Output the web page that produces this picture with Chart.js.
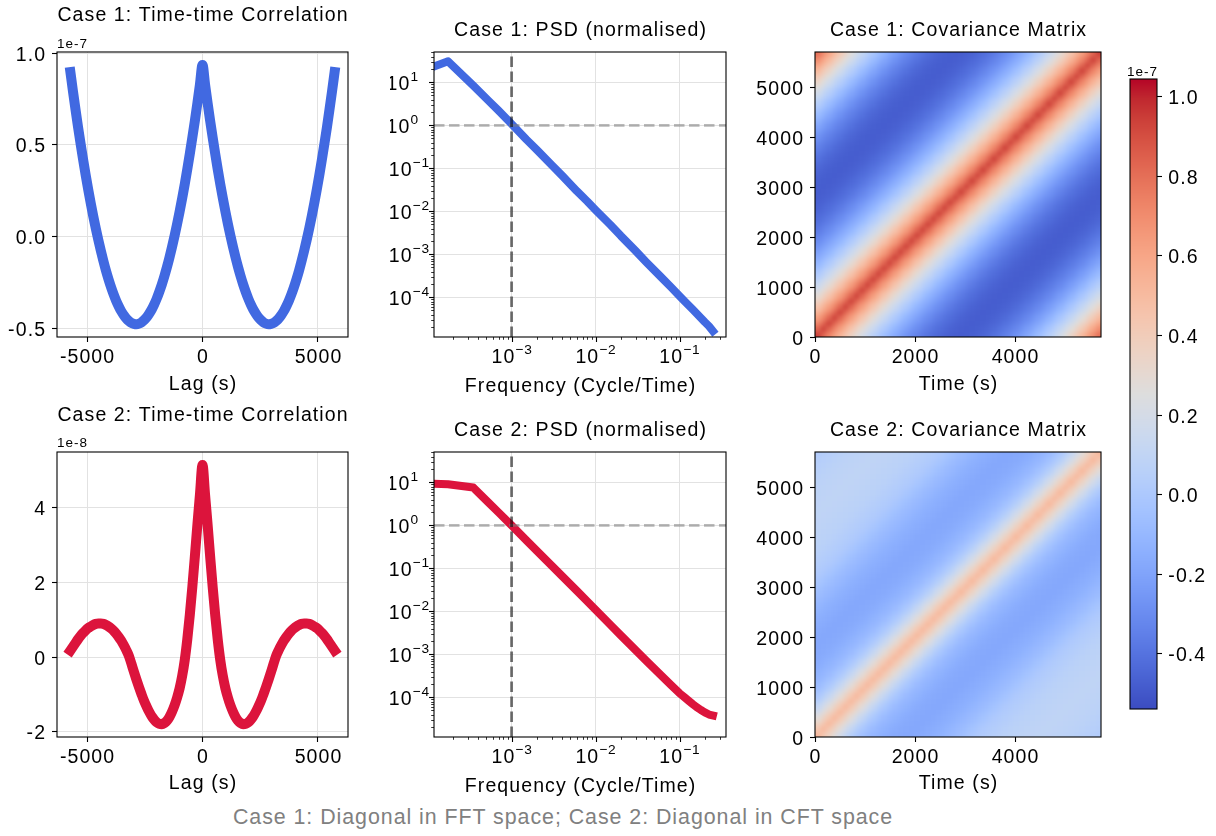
<!DOCTYPE html>
<html>
<head>
<meta charset="utf-8">
<script src="https://cdn.jsdelivr.net/npm/chart.js@4.4.1/dist/chart.umd.min.js"></script>
<style>
  html, body { margin: 0; padding: 0; background: #fff; }
  #fig { position: relative; width: 1216px; height: 836px; overflow: hidden; background: #fff; }
  #fig canvas { position: absolute; }
  #caption {
    position: absolute; left: 0; width: 1126px; top: 805px; height: 26px; line-height: 26px;
    text-align: center; color: #808080; letter-spacing: 0.95px;
    font: 21.4px "Liberation Sans", Arial, Helvetica, sans-serif;
  }
</style>
</head>
<body>
<div id="fig">
  <div id="caption">Case 1: Diagonal in FFT space; Case 2: Diagonal in CFT space</div>
</div>
<script>
// ---------------- data ----------------
// time lag grid (s), one-sided; the plotted correlation is symmetric in lag
const lags = [0, 110, 220, 330, 440, 550, 660, 770, 880, 990, 1100, 1210, 1320, 1430, 1540, 1650,
  1760, 1870, 1980, 2090, 2200, 2310, 2420, 2530, 2640, 2750, 2860, 2970, 3080, 3190, 3300, 3410,
  3520, 3630, 3740, 3850, 3960, 4070, 4180, 4290, 4400, 4510, 4620, 4730, 4840, 4950, 5060, 5170,
  5280, 5390, 5500, 5610, 5720];

// case 1 time-time correlation, units of 1e-7
const corrCase1 = [0.936, 0.830, 0.729, 0.632, 0.540, 0.451, 0.366, 0.285, 0.209, 0.137, 0.068, 0.004,
  -0.057, -0.114, -0.167, -0.216, -0.261, -0.301, -0.338, -0.370, -0.398, -0.421, -0.441, -0.456,
  -0.468, -0.475, -0.478, -0.476, -0.471, -0.461, -0.447, -0.429, -0.407, -0.380, -0.350, -0.315,
  -0.276, -0.233, -0.186, -0.134, -0.078, -0.019, 0.044, 0.111, 0.182, 0.257, 0.336, 0.420, 0.507,
  0.598, 0.694, 0.793, 0.897];

// case 2 time-time correlation, units of 1e-8
const corrCase2 = [5.14, 4.35, 3.55, 2.70, 1.88, 1.13, 0.47, -0.08, -0.50, -0.83, -1.08, -1.29, -1.46,
  -1.60, -1.70, -1.76, -1.79, -1.78, -1.74, -1.67, -1.58, -1.46, -1.32, -1.17, -0.99, -0.80, -0.60,
  -0.39, -0.17, 0.04, 0.19, 0.32, 0.44, 0.54, 0.63, 0.71, 0.77, 0.82, 0.86, 0.89, 0.90, 0.90, 0.89,
  0.86, 0.82, 0.78, 0.72, 0.65, 0.57, 0.48, 0.38, 0.28, 0.18];

// normalised power spectral densities
const psdFreq = [1.19e-4, 1.75e-4, 3.5e-4, 5.24e-4, 7.0e-4, 1.0e-3, 1.5e-3, 2.0e-3, 3.0e-3, 4.0e-3,
  6.0e-3, 8.0e-3, 1.0e-2, 1.5e-2, 2.0e-2, 3.0e-2, 4.0e-2, 6.0e-2, 8.0e-2, 0.1, 0.115, 0.13, 0.145,
  0.16, 0.18, 0.2, 0.225, 0.25];
const psdCase1 = [23.5, 31.0, 8.4, 3.85, 2.2, 1.08, 0.47, 0.27, 0.12, 0.068, 0.0295, 0.0170, 0.0108,
  0.0049, 0.0027, 0.00121, 0.00067, 0.000300, 0.000170, 0.000108, 0.0000817, 0.0000640, 0.0000514,
  0.0000422, 0.0000333, 0.0000268, 0.0000213, 0.0000165];
const psdCase2 = [9.3, 9.1, 7.6, 3.5, 2.0, 1.0, 0.45, 0.255, 0.116, 0.066, 0.0300, 0.0170, 0.0109,
  0.0049, 0.00278, 0.00126, 0.000720, 0.000330, 0.000190, 0.000125, 0.000100, 0.0000820, 0.0000690,
  0.0000595, 0.0000510, 0.0000450, 0.0000400, 0.0000380];
const psdRefFreq = 1e-3;   // vertical reference line
const psdRefLevel = 1;     // horizontal reference line

// tick labels
const lagTicks = [-5000, 0, 5000];
const corr1Ticks = [-0.5, 0.0, 0.5, 1.0];
const corr2Ticks = [-2, 0, 2, 4];
const freqExpTicks = [-3, -2, -1];
const psdExpTicks = [-4, -3, -2, -1, 0, 1];
const timeTicksX = [0, 2000, 4000];
const timeTicksY = [0, 1000, 2000, 3000, 4000, 5000];
const cbarTicks = [-0.4, -0.2, 0.0, 0.2, 0.4, 0.6, 0.8, 1.0];

// shared colour range of both covariance images, units of 1e-7
const covMin = -0.539;
const covMax = 1.045;

// ---------------- helpers ----------------
const FONT = '"Liberation Sans", Arial, Helvetica, sans-serif';
const LS = 1.1;
const GRID = '#e2e2e2';
const FIG = document.getElementById('fig');

// matplotlib "coolwarm" control colours
const COOLWARM = [[59,76,192],[68,90,204],[77,104,215],[87,117,225],[98,130,234],[108,142,241],
  [119,154,247],[130,165,251],[141,176,254],[152,185,255],[163,194,255],[174,201,253],[184,208,249],
  [194,213,244],[204,217,238],[213,219,230],[221,221,221],[229,216,209],[236,211,197],[241,204,185],
  [245,196,173],[247,187,160],[247,177,148],[247,166,135],[244,154,123],[241,141,111],[236,127,99],
  [229,112,88],[222,96,77],[213,80,66],[203,62,56],[192,40,47],[180,4,38]];
function coolwarm(t) {
  t = Math.min(1, Math.max(0, t));
  const n = COOLWARM.length - 1, f = t * n, i = Math.min(n - 1, Math.floor(f)), u = f - i;
  const a = COOLWARM[i], b = COOLWARM[i + 1];
  return 'rgb(' + [0, 1, 2].map(k => Math.round(a[k] + (b[k] - a[k]) * u)).join(',') + ')';
}

function setFont(ctx, size, ls) {
  ctx.font = size + 'px ' + FONT;
  if ('letterSpacing' in ctx) ctx.letterSpacing = ls + 'px';
}
function measure(ctx, s, size, ls) {
  ctx.save(); setFont(ctx, size, ls);
  const w = ctx.measureText(s).width - (('letterSpacing' in ctx) ? ls : 0);
  ctx.restore();
  return w;
}
function drawText(ctx, s, x, y, o) {
  o = o || {};
  const size = o.size || 19.5, ls = (o.ls === undefined) ? LS : o.ls, align = o.align || 'left';
  const w = measure(ctx, s, size, ls);
  const x0 = align === 'center' ? x - w / 2 : (align === 'right' ? x - w : x);
  ctx.save();
  setFont(ctx, size, ls);
  ctx.fillStyle = o.color || '#000';
  ctx.textAlign = 'left';
  ctx.textBaseline = 'alphabetic';
  ctx.fillText(s, x0, y);
  ctx.restore();
}
// "10" with a raised exponent
function sciText(ctx, exp, x, yb, align) {
  const sup = exp < 0 ? '\u2212' + Math.abs(exp) : String(exp);
  const wb = measure(ctx, '10', 19.5, LS), ws = measure(ctx, sup, 13.7, 0.8);
  const total = wb + LS + ws;
  const x0 = align === 'center' ? x - total / 2 : x - total;
  drawText(ctx, '10', x0, yb);
  drawText(ctx, sup, x0 + wb + LS, yb - 9, { size: 13.7, ls: 0.8 });
}

const fmt1 = v => (v < 0 ? '-' : '') + Math.abs(v).toFixed(1);
const fmt0 = v => (v < 0 ? '-' : '') + Math.abs(v).toFixed(0);
const mirror = a => a.slice(1).reverse().concat(a);
const lagAxis = lags.slice(1).reverse().map(v => -v).concat(lags);
const pts = (xs, ys) => xs.map((x, i) => ({ x: x, y: ys[i] }));

function mount(cv) {
  const c = document.createElement('canvas');
  c.width = cv.w; c.height = cv.h;
  c.style.left = cv.x + 'px'; c.style.top = cv.y + 'px';
  c.style.width = cv.w + 'px'; c.style.height = cv.h + 'px';
  FIG.appendChild(c);
  return c;
}

function decor(spec) {
  return {
    id: 'decor',
    beforeDatasetsDraw(chart) { if (spec.underlay) spec.underlay(chart); },
    afterDraw(chart) {
      const ctx = chart.ctx, ca = chart.chartArea;
      if (spec.labels) spec.labels(chart);
      ctx.save();
      ctx.strokeStyle = '#000'; ctx.lineWidth = 1.1;
      ctx.strokeRect(ca.left, ca.top, ca.right - ca.left, ca.bottom - ca.top);
      ctx.restore();
      (spec.texts || []).forEach(t => drawText(ctx, t.s, t.x - spec.cv.x, t.y - spec.cv.y, t));
    }
  };
}

function frameOptions(cv, area, scales) {
  return {
    responsive: false, animation: false, devicePixelRatio: 1, events: [],
    layout: { autoPadding: false,
      padding: { left: 0, top: area.t - cv.y, right: cv.x + cv.w - area.r, bottom: 0 } },
    plugins: { legend: { display: false }, tooltip: { enabled: false } },
    scales: scales
  };
}
function fixTicks(vals) { return s => { s.ticks = vals.map(v => ({ value: v })); }; }

function linearLabels(xs, ys, fx, fy) {
  return chart => {
    const ctx = chart.ctx, ca = chart.chartArea, X = chart.scales.x, Y = chart.scales.y;
    xs.forEach(v => drawText(ctx, fx(v), X.getPixelForValue(v), ca.bottom + 26, { align: 'center' }));
    ys.forEach(v => drawText(ctx, fy(v), ca.left - 12, Y.getPixelForValue(v) + 7.5, { align: 'right' }));
  };
}

// ---------------- correlation panels ----------------
function corrPanel(cv, area, values, color, yRange, yTicks, yFmt, texts) {
  const scales = {
    x: { type: 'linear', min: -6300, max: 6300, bounds: 'data',
      afterBuildTicks: fixTicks(lagTicks), afterFit: s => { s.height = cv.y + cv.h - area.b; },
      ticks: { display: false },
      grid: { color: GRID, lineWidth: 1, drawTicks: true, tickLength: 5, tickColor: '#000', tickWidth: 1.1 },
      border: { display: false } },
    y: { type: 'linear', min: yRange[0], max: yRange[1], bounds: 'data',
      afterBuildTicks: fixTicks(yTicks), afterFit: s => { s.width = area.l - cv.x; },
      ticks: { display: false },
      grid: { color: GRID, lineWidth: 1, drawTicks: true, tickLength: 5, tickColor: '#000', tickWidth: 1.1 },
      border: { display: false } }
  };
  const spec = { cv: cv, texts: texts, labels: linearLabels(lagTicks, yTicks, fmt0, yFmt) };
  new Chart(mount(cv), {
    type: 'scatter',
    data: { datasets: [{ data: pts(lagAxis, mirror(values)), showLine: true, borderColor: color,
      borderWidth: 10, pointRadius: 0, pointHoverRadius: 0, cubicInterpolationMode: 'monotone',
      borderCapStyle: 'square', borderJoinStyle: 'round', clip: 0 }] },
    options: frameOptions(cv, area, scales),
    plugins: [decor(spec)]
  });
}

// ---------------- PSD panels ----------------
function logLabelsAndTicks(chart) {
  const ctx = chart.ctx, ca = chart.chartArea, X = chart.scales.x, Y = chart.scales.y;
  ctx.save();
  ctx.strokeStyle = '#000';
  [[X, 'x'], [Y, 'y']].forEach(([s, ax]) => {
    const e0 = Math.floor(Math.log10(s.min)), e1 = Math.ceil(Math.log10(s.max));
    for (let e = e0; e <= e1; e++) {
      for (let k = 1; k <= 9; k++) {
        const v = k * Math.pow(10, e);
        if (v < s.min || v > s.max) continue;
        const p = Math.round(s.getPixelForValue(v)) + 0.5;
        const len = k === 1 ? 5 : 2.8;
        ctx.lineWidth = k === 1 ? 1.1 : 0.8;
        ctx.beginPath();
        if (ax === 'x') { ctx.moveTo(p, ca.bottom); ctx.lineTo(p, ca.bottom + len); }
        else { ctx.moveTo(ca.left, p); ctx.lineTo(ca.left - len, p); }
        ctx.stroke();
      }
    }
  });
  ctx.restore();
  freqExpTicks.forEach(e => sciText(ctx, e, X.getPixelForValue(Math.pow(10, e)), ca.bottom + 26, 'center'));
  psdExpTicks.forEach(e => sciText(ctx, e, ca.left - (e < 0 ? 5 : 16), Y.getPixelForValue(Math.pow(10, e)) + 8, 'right'));
}

function psdPanel(cv, area, values, color, texts) {
  const xMin = 1.19e-4, xMax = 0.358, yMin = 1.2e-5, yMax = 51;
  const grid = { color: GRID, lineWidth: 1, drawTicks: false };
  const scales = {
    x: { type: 'logarithmic', min: xMin, max: xMax, bounds: 'data',
      afterBuildTicks: fixTicks(freqExpTicks.map(e => Math.pow(10, e))),
      afterFit: s => { s.height = cv.y + cv.h - area.b; },
      ticks: { display: false }, grid: grid, border: { display: false } },
    y: { type: 'logarithmic', min: yMin, max: yMax, bounds: 'data',
      afterBuildTicks: fixTicks(psdExpTicks.map(e => Math.pow(10, e))),
      afterFit: s => { s.width = area.l - cv.x; },
      ticks: { display: false }, grid: grid, border: { display: false } }
  };
  const dash = { showLine: true, borderWidth: 2.8, borderDash: [10.5, 4.5], pointRadius: 0,
    pointHoverRadius: 0, tension: 0, clip: 0, order: 0 };
  const spec = { cv: cv, texts: texts, labels: logLabelsAndTicks };
  new Chart(mount(cv), {
    type: 'scatter',
    data: { datasets: [
      Object.assign({ data: [{ x: psdRefFreq, y: yMin }, { x: psdRefFreq, y: yMax }],
        borderColor: 'rgba(0,0,0,0.55)' }, dash),
      Object.assign({ data: [{ x: xMin, y: psdRefLevel }, { x: xMax, y: psdRefLevel }],
        borderColor: 'rgba(128,128,128,0.55)' }, dash),
      { data: pts(psdFreq, values), showLine: true, borderColor: color, borderWidth: 8,
        pointRadius: 0, pointHoverRadius: 0, tension: 0, borderCapStyle: 'square',
        borderJoinStyle: 'round', clip: 0, order: 1 }
    ] },
    options: frameOptions(cv, area, scales),
    plugins: [decor(spec)]
  });
}

// ---------------- covariance panels ----------------
function covPanel(cv, area, corr, unit, texts) {
  const tMax = lags[lags.length - 1];
  const tickGrid = { drawOnChartArea: false, drawTicks: true, tickLength: 5, tickColor: '#000', tickWidth: 1.1 };
  const scales = {
    x: { type: 'linear', min: 0, max: tMax, bounds: 'data', afterBuildTicks: fixTicks(timeTicksX),
      afterFit: s => { s.height = cv.y + cv.h - area.b; }, ticks: { display: false },
      grid: tickGrid, border: { display: false } },
    y: { type: 'linear', min: 0, max: tMax, bounds: 'data', afterBuildTicks: fixTicks(timeTicksY),
      afterFit: s => { s.width = area.l - cv.x; }, ticks: { display: false },
      grid: tickGrid, border: { display: false } }
  };
  // stationary covariance: cell (i, j) holds the correlation at lag |t_i - t_j|;
  // cells are painted on a layer that is softened like an interpolated image
  const underlay = chart => {
    const ctx = chart.ctx, ca = chart.chartArea, X = chart.scales.x, Y = chart.scales.y, n = lags.length - 1;
    const px = lags.map(t => Math.round(X.getPixelForValue(t)));
    const py = lags.map(t => Math.round(Y.getPixelForValue(t)));
    const layer = document.createElement('canvas');
    layer.width = chart.width; layer.height = chart.height;
    const lc = layer.getContext('2d');
    const pad = 12;
    for (let i = 0; i < n; i++) {
      for (let j = 0; j < n; j++) {
        const v = corr[Math.abs(i - j)] * unit;
        lc.fillStyle = coolwarm((v - covMin) / (covMax - covMin));
        const x0 = px[i] - (i === 0 ? pad : 0), x1 = px[i + 1] + (i === n - 1 ? pad : 0);
        const y0 = py[j + 1] - (j === n - 1 ? pad : 0), y1 = py[j] + (j === 0 ? pad : 0);
        lc.fillRect(x0, y0, x1 - x0, y1 - y0);
      }
    }
    ctx.save();
    ctx.beginPath();
    ctx.rect(ca.left, ca.top, ca.right - ca.left, ca.bottom - ca.top);
    ctx.clip();
    ctx.filter = 'blur(2.2px)';
    ctx.drawImage(layer, 0, 0);
    ctx.restore();
  };
  const spec = { cv: cv, texts: texts, underlay: underlay,
    labels: linearLabels(timeTicksX, timeTicksY, fmt0, fmt0) };
  new Chart(mount(cv), {
    type: 'scatter', data: { datasets: [] },
    options: frameOptions(cv, area, scales),
    plugins: [decor(spec)]
  });
}

// ---------------- colour bar ----------------
function colorbar(cv, area) {
  const scales = {
    x: { display: false, min: 0, max: 1 },
    y: { type: 'linear', position: 'right', min: covMin, max: covMax, bounds: 'data',
      afterBuildTicks: fixTicks(cbarTicks), afterFit: s => { s.width = cv.x + cv.w - area.r; },
      ticks: { display: false },
      grid: { drawOnChartArea: false, drawTicks: true, tickLength: 5, tickColor: '#000', tickWidth: 1.1 },
      border: { display: false } }
  };
  const underlay = chart => {
    const ctx = chart.ctx, ca = chart.chartArea, Y = chart.scales.y;
    for (let y = Math.floor(ca.top); y < Math.ceil(ca.bottom); y++) {
      const v = Y.getValueForPixel(y + 0.5);
      ctx.fillStyle = coolwarm((v - covMin) / (covMax - covMin));
      ctx.fillRect(ca.left, y, ca.right - ca.left, 1);
    }
  };
  const labels = chart => {
    const ctx = chart.ctx, ca = chart.chartArea, Y = chart.scales.y;
    cbarTicks.forEach(v => drawText(ctx, fmt1(v), ca.right + 11.3, Y.getPixelForValue(v) + 7.5));
  };
  const spec = { cv: cv, underlay: underlay, labels: labels,
    texts: [{ s: '1e-7', x: 1157, y: 76, size: 13.5, ls: 1, align: 'right' }] };
  const opts = frameOptions(cv, area, scales);
  opts.layout.padding = { left: area.l - cv.x, top: area.t - cv.y, right: 0, bottom: cv.y + cv.h - area.b };
  new Chart(mount(cv), { type: 'scatter', data: { datasets: [] }, options: opts, plugins: [decor(spec)] });
}

// ---------------- figure ----------------
const BLUE = '#4169e1', RED = '#dc143c';

corrPanel({ x: 0, y: 0, w: 390, h: 400 }, { l: 57, t: 52, r: 348, b: 337 }, corrCase1, BLUE,
  [-0.548, 1.0065], corr1Ticks, fmt1, [
    { s: 'Case 1: Time-time Correlation', x: 202.5, y: 20.7, align: 'center' },
    { s: 'Lag (s)', x: 202.5, y: 390, align: 'center' },
    { s: '1e-7', x: 57, y: 47.7, size: 13.5, ls: 1 }]);

psdPanel({ x: 390, y: 0, w: 360, h: 400 }, { l: 434, t: 52, r: 726, b: 337 }, psdCase1, BLUE, [
  { s: 'Case 1: PSD (normalised)', x: 580, y: 36, align: 'center' },
  { s: 'Frequency (Cycle/Time)', x: 580, y: 391.5, align: 'center' }]);

covPanel({ x: 740, y: 0, w: 375, h: 400 }, { l: 815, t: 52, r: 1101, b: 337 }, corrCase1, 1, [
  { s: 'Case 1: Covariance Matrix', x: 958, y: 36, align: 'center' },
  { s: 'Time (s)', x: 958, y: 390, align: 'center' }]);

corrPanel({ x: 0, y: 400, w: 390, h: 436 }, { l: 57, t: 452, r: 348, b: 737 }, corrCase2, RED,
  [-2.134, 5.487], corr2Ticks, fmt0, [
    { s: 'Case 2: Time-time Correlation', x: 202.5, y: 420.7, align: 'center' },
    { s: 'Lag (s)', x: 202.5, y: 788.5, align: 'center' },
    { s: '1e-8', x: 57, y: 447.3, size: 13.5, ls: 1 }]);

psdPanel({ x: 390, y: 400, w: 360, h: 436 }, { l: 434, t: 452, r: 726, b: 737 }, psdCase2, RED, [
  { s: 'Case 2: PSD (normalised)', x: 580, y: 435.7, align: 'center' },
  { s: 'Frequency (Cycle/Time)', x: 580, y: 791.5, align: 'center' }]);

covPanel({ x: 740, y: 400, w: 375, h: 436 }, { l: 815, t: 452, r: 1101, b: 737 }, corrCase2, 0.1, [
  { s: 'Case 2: Covariance Matrix', x: 958, y: 435.7, align: 'center' },
  { s: 'Time (s)', x: 958, y: 789, align: 'center' }]);

colorbar({ x: 1115, y: 0, w: 101, h: 836 }, { l: 1130, t: 79, r: 1157, b: 709 });
</script>
</body>
</html>
